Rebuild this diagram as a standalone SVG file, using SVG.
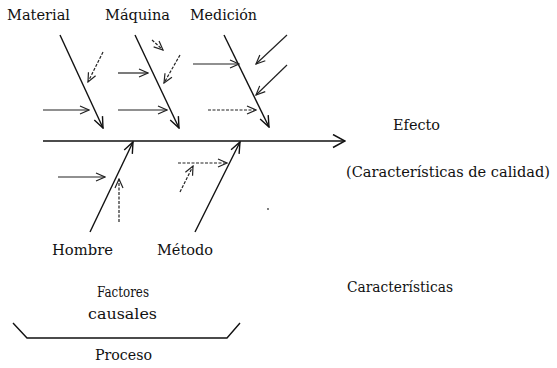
<svg xmlns="http://www.w3.org/2000/svg" width="557" height="368" viewBox="0 0 557 368">
<defs>
<style>
text{font-family:'DejaVu Serif',serif;font-size:15px;fill:#111}
.ln{stroke:#111;stroke-width:1.4;fill:none}
.sm{stroke:#222;stroke-width:1.2;fill:none}
.ds{stroke-dasharray:3 1.5}
.big{marker-end:url(#hb)}
.mid{marker-end:url(#hm)}
.sa{marker-end:url(#hs)}
</style>
<marker id="hb" markerUnits="userSpaceOnUse" markerWidth="14" markerHeight="16" refX="13" refY="7.5" orient="auto" viewBox="0 0 14 16"><path d="M1,1 L13,7.5 L1,14" fill="none" stroke="#111" stroke-width="1.5"/></marker>
<marker id="hm" markerUnits="userSpaceOnUse" markerWidth="13" markerHeight="12" refX="12" refY="5.5" orient="auto" viewBox="0 0 13 12"><path d="M1,1 L12,5.5 L1,10" fill="none" stroke="#111" stroke-width="1.4"/></marker>
<marker id="hs" markerUnits="userSpaceOnUse" markerWidth="11" markerHeight="11" refX="10" refY="5" orient="auto" viewBox="0 0 11 11"><path d="M1,1 L10,5 L1,9" fill="none" stroke="#222" stroke-width="1.2"/></marker>
</defs>
<g id="connectors">
<line class="ln big" x1="43" y1="141" x2="345" y2="141"/>
<line class="ln mid" x1="60" y1="35" x2="103" y2="128"/>
<line class="ln mid" x1="135" y1="35" x2="179" y2="128"/>
<line class="ln mid" x1="224" y1="35" x2="269" y2="127"/>
<line class="ln mid" x1="90" y1="232" x2="133" y2="142"/>
<line class="ln mid" x1="195" y1="232" x2="240" y2="142"/>
<line class="sm sa ds" x1="103" y1="52" x2="88" y2="82"/>
<line class="sm sa" x1="43" y1="110" x2="89" y2="110"/>
<line class="sm sa" x1="118" y1="73" x2="148" y2="73"/>
<line class="sm sa ds" x1="152" y1="40" x2="163" y2="50"/>
<line class="sm sa ds" x1="180" y1="55" x2="164" y2="83"/>
<line class="sm sa" x1="118" y1="110" x2="167" y2="110"/>
<line class="sm sa" x1="193" y1="64" x2="239" y2="64"/>
<line class="sm sa" x1="287" y1="35" x2="256" y2="64"/>
<line class="sm sa" x1="287" y1="65" x2="256" y2="95"/>
<line class="sm sa ds" x1="208" y1="110" x2="256" y2="110"/>
<line class="sm sa" x1="58" y1="177" x2="105" y2="177"/>
<line class="sm sa ds" x1="119" y1="222" x2="119" y2="179"/>
<line class="sm sa ds" x1="178" y1="163" x2="227" y2="163"/>
<line class="sm sa ds" x1="180" y1="192" x2="193" y2="166"/>
<circle cx="268" cy="209" r="0.9" fill="#444"/>
<path class="ln" d="M13,323 L27,338 L227,338 L240,323"/>
</g>
<g id="material"><text x="7" y="20" textLength="63" lengthAdjust="spacingAndGlyphs">Material</text></g>
<g id="maquina"><text x="105" y="20" textLength="65" lengthAdjust="spacingAndGlyphs">Máquina</text></g>
<g id="medicion"><text x="190" y="20" textLength="67" lengthAdjust="spacingAndGlyphs">Medición</text></g>
<g id="hombre"><text x="52" y="255" textLength="61" lengthAdjust="spacingAndGlyphs">Hombre</text></g>
<g id="metodo"><text x="157" y="255" textLength="56" lengthAdjust="spacingAndGlyphs">Método</text></g>
<g id="efecto"><text x="393" y="130" textLength="47" lengthAdjust="spacingAndGlyphs">Efecto</text></g>
<g id="caracteristicas-calidad"><text x="346" y="177" textLength="204" lengthAdjust="spacingAndGlyphs">(Características de calidad)</text></g>
<g id="factores"><text x="97" y="297" textLength="52" lengthAdjust="spacingAndGlyphs">Factores</text><text x="88" y="319" textLength="69" lengthAdjust="spacingAndGlyphs">causales</text></g>
<g id="caracteristicas"><text x="347" y="292" textLength="106" lengthAdjust="spacingAndGlyphs">Características</text></g>
<g id="proceso"><text x="95" y="360" textLength="57" lengthAdjust="spacingAndGlyphs">Proceso</text></g>
</svg>
